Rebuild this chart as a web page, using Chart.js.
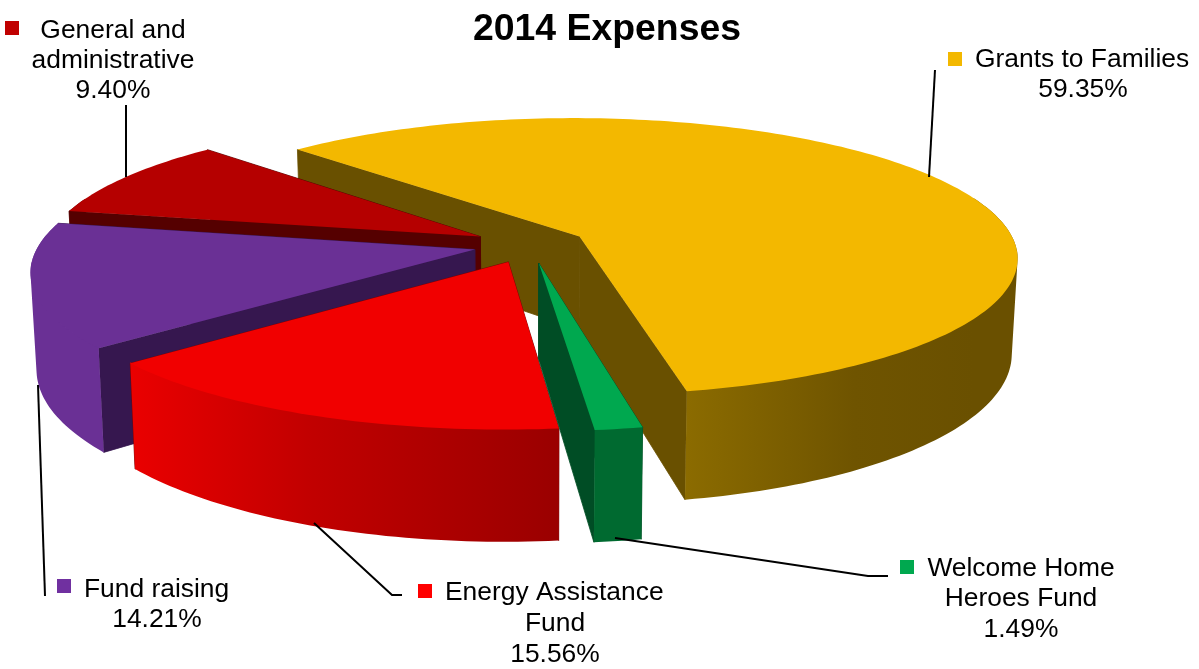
<!DOCTYPE html>
<html>
<head>
<meta charset="utf-8">
<title>2014 Expenses</title>
<script src="https://cdn.jsdelivr.net/npm/chart.js@4/dist/chart.umd.js"></script>
<style>
  html, body { margin: 0; padding: 0; background: #ffffff; }
  canvas { display: block; }
</style>
</head>
<body>
<canvas id="chart" width="1199" height="669"></canvas>
<script>
const chartTitle = '2014 Expenses';
const categories = ['Grants to Families', 'Welcome Home Heroes Fund', 'Energy Assistance Fund', 'Fund raising', 'General and administrative'];
const shares = [59.35, 1.49, 15.56, 14.21, 9.40];
const topColors = ['#F3B800', '#00A84F', '#F10000', '#6A3095', '#B50000'];
const cutColors = ['#695000', '#004D25', '#7A0000', '#36174F', '#550000'];
const legendColors = ['#F3B800', '#00A84F', '#FF0000', '#7030A0', '#C00000'];
// Outer wall shading, from the first rim point of a slice to its last.
const wallShades = [
  [[0, '#6A5000'], [0.72, '#6A5000'], [0.9, '#6F5400'], [1, '#8B6B00']],
  [[0, '#006A30'], [1, '#006A30']],
  [[0, '#9A0000'], [0.5, '#C20000'], [1, '#EA0000']],
  [[0, '#6A3095'], [1, '#6A3095']],
  [[0, '#550000'], [1, '#550000']]
];

// Label blocks: marker square, wrapped lines and the leader line of each slice.
const labelBlocks = [
  { marker: [948, 52], lines: [['Grants to Families', 975, 60, 'left'], ['', 1083, 90, 'center']], leader: [[935, 70], [929, 177]] },
  { marker: [900, 560], lines: [['Welcome Home', 1021, 569, 'center'], ['Heroes Fund', 1021, 599, 'center'], ['', 1021, 630, 'center']], leader: [[615, 538], [868, 576], [888, 576]] },
  { marker: [418, 584], lines: [['Energy Assistance', 445, 593, 'left'], ['Fund', 555, 624, 'center'], ['', 555, 655, 'center']], leader: [[314, 523], [392, 595], [402, 595]] },
  { marker: [57, 579], lines: [['Fund raising', 84, 590, 'left'], ['', 157, 620, 'center']], leader: [[38, 385], [45, 596]] },
  { marker: [5, 21], lines: [['General and', 113, 31, 'center'], ['administrative', 113, 61, 'center'], ['', 113, 91, 'center']], leader: [[126, 105], [126, 177]] }
];

const LABEL_FONT = "26.4px 'Liberation Sans', Arial, sans-serif";
const EXPLODE = 0.13;      // slice displacement, in pie radii
const PERSPECTIVE = 0.145; // foreshortening towards the back of the pie
const X_SCALE = 2.228;
const Y_SCALE = 0.7045;
const DEPTH = 0.48;
const CENTER_SHIFT_X = -77;
const CENTER_SHIFT_Y = -2.7;

// Draws the arcs laid out by the pie controller as extruded, exploded wedges.
const extrudedPie = {
  id: 'extrudedPie',
  beforeDatasetsDraw(chart) {
    const ctx = chart.ctx;
    const arcs = chart.getDatasetMeta(0).data;
    const first = arcs[0];
    const R = first.outerRadius;
    const x0 = first.x + CENTER_SHIFT_X, y0 = first.y + CENTER_SHIFT_Y;
    const project = (u, v, down) => {
      const den = 1 - PERSPECTIVE * v;
      const shrink = down ? 0.988 : 1;
      return [
        x0 + R * X_SCALE * u / den * shrink,
        y0 + R * Y_SCALE * v / den + (down ? R * DEPTH / den : 0)
      ];
    };
    const tracePoly = pts => {
      pts.forEach((p, i) => i ? ctx.lineTo(p[0], p[1]) : ctx.moveTo(p[0], p[1]));
      ctx.closePath();
    };
    const fillPoly = (pts, color, seal) => {
      ctx.beginPath();
      tracePoly(pts);
      ctx.fillStyle = color;
      ctx.fill();
      if (seal) {
        ctx.strokeStyle = color;
        ctx.lineWidth = 0.8;
        ctx.stroke();
      }
    };
    const signedArea = pts => pts.reduce((sum, p, i) => {
      const q = pts[(i + 1) % pts.length];
      return sum + p[0] * q[1] - q[0] * p[1];
    }, 0);

    const order = arcs.map((arc, i) => ({
      arc, i, mid: (arc.startAngle + arc.endAngle) / 2
    })).sort((a, b) => Math.sin(a.mid) - Math.sin(b.mid));

    order.forEach(({ arc, i, mid }) => {
      const ox = EXPLODE * Math.cos(mid), oy = EXPLODE * Math.sin(mid);
      const steps = Math.max(4, Math.ceil((arc.endAngle - arc.startAngle) / 0.02));
      const rim = [];
      for (let k = 0; k <= steps; k++) {
        const a = arc.startAngle + (arc.endAngle - arc.startAngle) * k / steps;
        rim.push({ a, t: k / steps, u: ox + Math.cos(a), v: oy + Math.sin(a) });
      }
      const ends = [rim[0], rim[steps]].sort((p, q) => p.v - q.v);
      // Cut faces, the one further back first.
      ends.forEach(p => {
        fillPoly([project(ox, oy, false), project(p.u, p.v, false), project(p.u, p.v, true), project(ox, oy, true)], arc.options.borderColor, true);
      });
      // Curved outer wall, only the part turned towards the viewer. The strips
      // share one path, wound the same way, so no seams show between them.
      const front = rim.filter(p => Math.sin(p.a) >= -0.3);
      if (front.length > 1) {
        const xa = project(front[0].u, front[0].v, false)[0];
        const xb = project(front[front.length - 1].u, front[front.length - 1].v, false)[0];
        const gradient = ctx.createLinearGradient(xa, 0, xb, 0);
        wallShades[i].forEach(([t, color]) => {
          const target = rim[Math.round(t * steps)];
          const x = project(target.u, target.v, false)[0];
          const hidden = target.t < front[0].t;
          const pos = hidden ? 0 : Math.min(1, Math.max(0, (x - xa) / ((xb - xa) || 1)));
          gradient.addColorStop(pos, color);
        });
        // On the near side the strips start a pixel up, under the top face's edge.
        const upper = p => {
          const pt = project(p.u, p.v, false);
          return Math.sin(p.a) > 0.1 ? [pt[0], pt[1] - 1] : pt;
        };
        ctx.beginPath();
        for (let k = 0; k < front.length - 1; k++) {
          const p = front[k], q = front[k + 1];
          const quad = [upper(p), upper(q), project(q.u, q.v, true), project(p.u, p.v, true)];
          tracePoly(signedArea(quad) < 0 ? quad.reverse() : quad);
        }
        ctx.fillStyle = gradient;
        ctx.fill();
      }
      // Top face.
      fillPoly([project(ox, oy, false)].concat(rim.map(p => project(p.u, p.v, false))), arc.options.backgroundColor, false);
    });
    return false;
  },
  afterDraw(chart) {
    const ctx = chart.ctx;
    ctx.save();
    ctx.font = LABEL_FONT;
    ctx.textBaseline = 'middle';
    labelBlocks.forEach((block, i) => {
      ctx.strokeStyle = '#000000';
      ctx.lineWidth = 2;
      ctx.beginPath();
      block.leader.forEach((p, k) => k ? ctx.lineTo(p[0], p[1]) : ctx.moveTo(p[0], p[1]));
      ctx.stroke();
      ctx.fillStyle = legendColors[i];
      ctx.fillRect(block.marker[0], block.marker[1], 14, 14);
      ctx.fillStyle = '#000000';
      block.lines.forEach(([text, x, y, align]) => {
        ctx.textAlign = align;
        ctx.fillText(text || shares[i].toFixed(2) + '%', x, y);
      });
    });
    ctx.restore();
  }
};

new Chart(document.getElementById('chart'), {
  type: 'pie',
  plugins: [extrudedPie],
  data: {
    labels: categories,
    datasets: [{
      data: shares,
      backgroundColor: topColors,
      borderColor: cutColors,
      borderWidth: 0
    }]
  },
  options: {
    responsive: false,
    animation: false,
    rotation: -45,
    layout: { padding: { left: 15, right: 0, top: 0, bottom: 225.5 } },
    plugins: {
      legend: { display: false },
      tooltip: { enabled: false },
      title: {
        display: true,
        text: chartTitle,
        color: '#000000',
        font: { family: "'Liberation Sans', Arial, sans-serif", size: 37.4, weight: 'bold' },
        padding: { top: 7, bottom: 0 }
      }
    }
  }
});
</script>
</body>
</html>
